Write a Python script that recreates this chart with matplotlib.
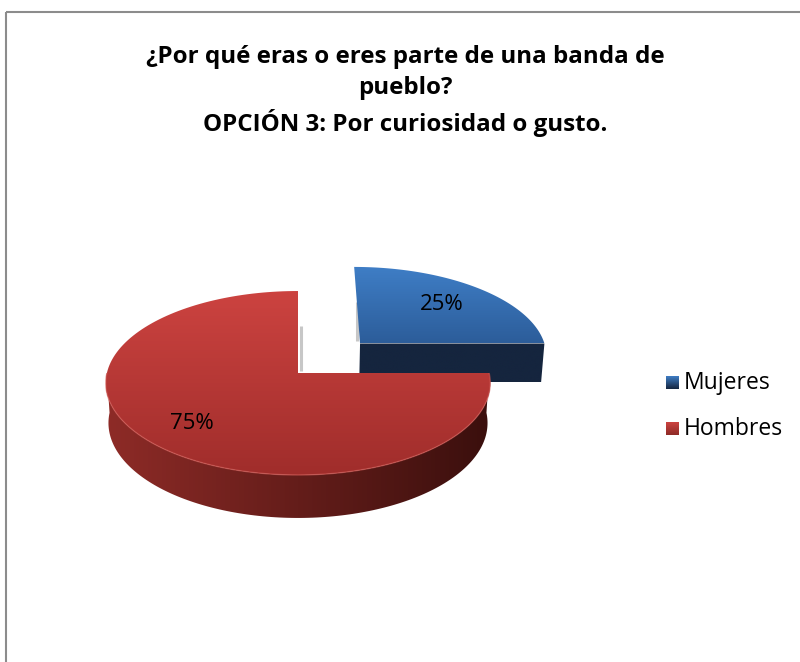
import numpy as np
import matplotlib.pyplot as plt
from matplotlib.patches import Polygon, Rectangle
from matplotlib.colors import LinearSegmentedColormap

title = "¿Por qué eras o eres parte de una banda de\npueblo?\nOPCIÓN 3: Por curiosidad o gusto."
labels = ["Mujeres", "Hombres"]
shares = [25, 75]
top_colors = [("#3f7ec6", "#2c5d9a"), ("#cc4340", "#a02d2b")]
side_colors = [("#15253e", "#15253e"), ("#8e2b27", "#3a0f0d")]
explode = [0.476, 0.0]
label_r = [0.68, 0.74]

W, H = 800, 662
fig = plt.figure(figsize=(8, 6.62), dpi=100)
ax = fig.add_axes([0, 0, 1, 1])
ax.axis('off')

# simple perspective camera for the 3d pie (unit radius disk, z up)
cx, cy = 298, 373
elev = np.radians(28.4)
dist, focal, height = 8.09, 1546.0, 0.24
ce, se = np.cos(elev), np.sin(elev)


def proj(X, Y, Z):
    d = dist + Y * ce - Z * se
    return cx + focal * X / d, cy - focal * (Y * se + Z * ce) / d


def fill_grad(poly, c0, c1, vertical=True, z=1):
    poly = np.asarray(poly)
    patch = Polygon(poly, closed=True, facecolor='none', edgecolor='none')
    ax.add_patch(patch)
    cmap = LinearSegmentedColormap.from_list('g', [c0, c1])
    x0, y0 = poly.min(axis=0)
    x1, y1 = poly.max(axis=0)
    g = np.linspace(0, 1, 256)
    img = g[:, None] if vertical else g[None, :]
    im = ax.imshow(img, cmap=cmap, extent=(x0, x1, y1, y0), aspect='auto',
                   zorder=z, interpolation='bicubic')
    im.set_clip_path(patch)


def arc(ox, oy, a0, a1, Z=0.0, n=160):
    t = np.radians(np.linspace(a0, a1, n))
    sx, sy = proj(ox + np.cos(t), oy + np.sin(t), Z)
    return np.column_stack([sx, sy])


total = sum(shares)
cum = np.concatenate([[0], np.cumsum(shares)])
z = 1
for i, s in enumerate(shares):
    # start at 12 o'clock, go clockwise
    a0 = 90 - 360 * cum[i] / total
    a1 = 90 - 360 * cum[i + 1] / total
    mid = np.radians((a0 + a1) / 2)
    ox = explode[i] * np.cos(mid)
    oy = explode[i] * np.sin(mid)
    c_top = proj(ox, oy, 0)
    c_bot = proj(ox, oy, -height)

    # soft shadow along the radial edge at 12 o'clock
    sh = arc(ox, oy, 90, 90, n=1)[0]
    side = -1 if i == 0 else 1
    ax.plot([c_top[0] + 3 * side] * 2, [sh[1] + 35, c_top[1] - 2],
            color='#9a9a9a', lw=2.2, alpha=0.55, zorder=z, solid_capstyle='butt')
    z += 1

    # flat cut faces, only the ones turned towards the viewer
    for a, turn in ((a0, 90), (a1, -90)):
        ny = np.sin(np.radians(a + turn))
        if ny < -0.5:
            e_top = arc(ox, oy, a, a, n=1)[0]
            e_bot = arc(ox, oy, a, a, Z=-height, n=1)[0]
            fill_grad([c_top, e_top, e_bot, c_bot], side_colors[i][0],
                      side_colors[i][0], z=z)
            z += 1

    # outer wall, front half only
    lo, hi = min(a0, a1), max(a0, a1)
    for off in (-360, 0, 360):
        f0, f1 = max(lo, 180 + off), min(hi, 360 + off)
        if f1 > f0:
            top = arc(ox, oy, f0, f1)
            bot = arc(ox, oy, f1, f0, Z=-height)
            fill_grad(np.vstack([top, bot]), side_colors[i][0], side_colors[i][1],
                      vertical=False, z=z)
            z += 1
            ax.plot(top[:, 0], top[:, 1], color='#d25a55', lw=1.0, alpha=0.6,
                    zorder=z + 1, solid_capstyle='butt')

    # top face
    face = np.vstack([[c_top], arc(ox, oy, a0, a1)])
    fill_grad(face, top_colors[i][0], top_colors[i][1], z=z)
    z += 2

    lx, ly = proj(ox + label_r[i] * np.cos(mid), oy + label_r[i] * np.sin(mid), 0)
    ax.text(lx, ly, f"{s}%", ha='center', va='center', fontsize=16,
            family='Open Sans', color='black', zorder=50)

# legend
for i, lab in enumerate(labels):
    y = 383 + 46 * i
    fill_grad([(666, y - 7), (679, y - 7), (679, y + 6), (666, y + 6)],
              top_colors[i][0], side_colors[i][0] if i == 0 else '#8e2b27', z=60)
    ax.text(684, y, lab, ha='left', va='center', fontsize=16.5,
            family='Open Sans', color='black', zorder=60)

ax.text(405, 91, title, ha='center', va='center', fontsize=17.4,
        family='Open Sans', fontweight='bold', linespacing=1.4, zorder=60)

ax.add_patch(Rectangle((6, 12), 900, 900, fill=False, edgecolor='#8c8c8c', lw=1.5,
                       zorder=70))

ax.set_xlim(0, W)
ax.set_ylim(H, 0)
fig.savefig("out.png", dpi=100)
